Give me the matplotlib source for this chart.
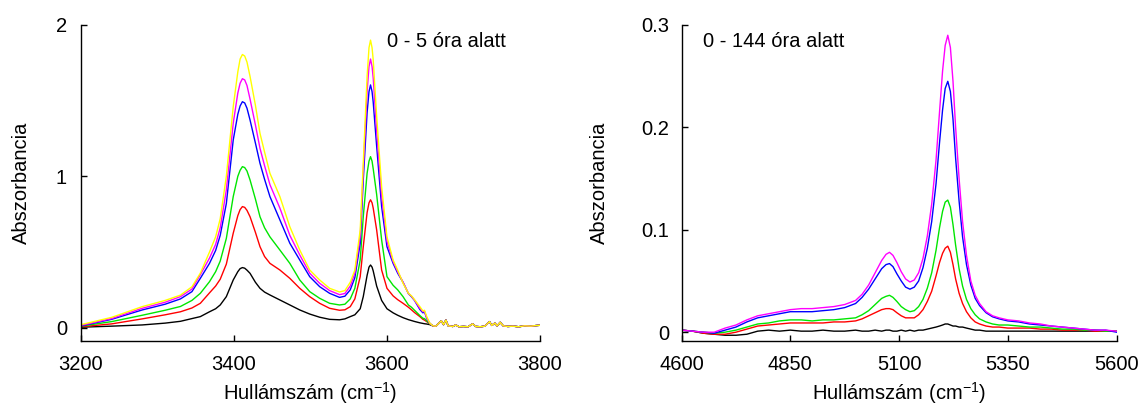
import numpy as np
import matplotlib
matplotlib.use("Agg")
import matplotlib.pyplot as plt
from matplotlib.ticker import FormatStrFormatter

plt.rcParams['font.family'] = ['Liberation Sans', 'DejaVu Sans']
plt.rcParams['mathtext.fontset'] = 'custom'
plt.rcParams['mathtext.rm'] = 'Liberation Sans'
plt.rcParams['mathtext.default'] = 'regular'

# ---- left panel: 3200-3800 cm-1, 0 - 5 ora ----
wn_left = [3200, 3240, 3280, 3310, 3330, 3345, 3356, 3368, 3376, 3382, 3390, 3399,
           3405, 3408, 3411, 3414, 3417, 3421, 3428, 3434, 3440, 3447, 3460, 3473,
           3486, 3499, 3512, 3525, 3538, 3545, 3552, 3558, 3565, 3569, 3574, 3576.5,
           3578.5, 3580.5, 3582, 3586.5, 3593, 3600, 3608, 3614, 3621, 3628, 3632, 3636,
           3643, 3647, 3649, 3652, 3656]

abs_black = [.003, .010, .018, .030, .042, .060, .073, .105, .125, .150, .205, .315,
             .370, .390, .397, .393, .380, .359, .300, .260, .235, .216, .183, .150,
             .117, .090, .069, .055, .052, .058, .073, .085, .125, .205, .345, .400,
             .414, .400, .375, .275, .180, .125, .098, .082, .066, .053, .047, .041,
             .032, .028, .026, .024, .020]
abs_red = [.006, .025, .058, .085, .105, .130, .161, .230, .275, .320, .420, .624,
           .740, .780, .800, .795, .775, .733, .630, .535, .470, .425, .381, .326,
           .260, .205, .161, .128, .115, .118, .139, .190, .337, .535, .760, .825,
           .845, .825, .790, .646, .381, .260, .210, .185, .161, .135, .118, .100,
           .073, .055, .050, .040, .025]
abs_green = [.010, .040, .082, .115, .140, .180, .227, .304, .370, .440, .590, .866,
             1.000, 1.040, 1.064, 1.058, 1.035, .976, .850, .733, .660, .600, .513, .425,
             .315, .238, .194, .161, .150, .155, .190, .260, .447, .733, 1.020, 1.100,
             1.130, 1.100, 1.050, .880, .580, .337, .280, .250, .205, .150, .135, .115,
             .080, .062, .060, .045, .025]
abs_blue = [.012, .055, .117, .155, .190, .238, .326, .425, .510, .610, .820, 1.240,
            1.410, 1.465, 1.493, 1.485, 1.450, 1.372, 1.220, 1.086, .980, .866, .712, .558,
            .447, .337, .271, .227, .200, .208, .250, .330, .558, .976, 1.420, 1.560,
            1.604, 1.560, 1.490, 1.200, .800, .535, .425, .360, .300, .225, .205, .180,
            .120, .098, .105, .062, .028]
abs_magenta = [.015, .060, .128, .168, .205, .255, .350, .460, .550, .660, .910, 1.350,
               1.550, 1.615, 1.645, 1.637, 1.600, 1.510, 1.340, 1.185, 1.070, .945, .790, .610,
               .480, .360, .293, .245, .218, .226, .275, .360, .600, 1.040, 1.560, 1.725,
               1.775, 1.725, 1.650, 1.300, .870, .570, .437, .370, .300, .226, .208, .182,
               .128, .105, .110, .064, .028]
abs_yellow = [.020, .068, .139, .180, .215, .270, .360, .500, .600, .720, 1.000, 1.460,
              1.690, 1.775, 1.805, 1.795, 1.755, 1.660, 1.470, 1.284, 1.160, 1.020, .866, .667,
              .513, .381, .315, .260, .236, .245, .300, .381, .646, 1.086, 1.660, 1.850,
              1.900, 1.850, 1.770, 1.400, .932, .600, .447, .380, .293, .227, .210, .185,
              .139, .110, .115, .073, .030]

# noisy tail above 3656 cm-1, practically the same for every spectrum
wn_tail = [3660, 3664, 3668, 3671, 3674, 3677, 3680, 3686, 3690, 3694, 3700, 3706,
           3712, 3716, 3722, 3728, 3734, 3737, 3741, 3744, 3748, 3752, 3758, 3765,
           3772, 3780, 3788, 3795, 3800]
abs_tail = [.012, .010, .030, .045, .020, .050, .012, .008, .018, .006, .008, .006,
            .025, .008, .006, .010, .040, .015, .030, .012, .035, .012, .008, .010,
            .006, .012, .010, .014, .016]

# ---- right panel: 4600-5600 cm-1, 0 - 144 ora ----
wn_right = [4600, 4625, 4650, 4675, 4700, 4725, 4750, 4775, 4800, 4825, 4850, 4875,
            4900, 4925, 4950, 4975, 5000, 5015, 5030, 5045, 5060, 5070, 5078, 5086,
            5095, 5105, 5115, 5125, 5135, 5145, 5155, 5165, 5175, 5185, 5193, 5200,
            5206, 5212, 5218, 5224, 5230, 5238, 5246, 5255, 5265, 5275, 5285, 5300,
            5315, 5330, 5350, 5375, 5400, 5425, 5450, 5475, 5500, 5525, 5550, 5575, 5600]

r_black = [.002, .001, -.001, -.002, -.003, -.003, -.002, .001, .002, .001, .002, .001,
           .001, .002, .001, .001, .002, .001, .001, .002, .001, .002, .002, .001,
           .001, .002, .001, .002, .001, .002, .002, .003, .004, .005, .006, .007,
           .008, .008, .007, .006, .006, .005, .005, .004, .003, .002, .002, .001,
           .001, .001, .001, .001, .001, .001, .001, .001, .001, .001, .001, .001, .001]
r_red = [.002, .001, -.001, -.002, -.002, .000, .003, .006, .007, .008, .009, .009,
         .009, .009, .010, .010, .011, .013, .016, .019, .022, .023, .023, .022,
         .019, .016, .014, .014, .014, .017, .022, .030, .040, .055, .068, .077,
         .082, .084, .078, .066, .052, .038, .028, .020, .014, .010, .008, .006,
         .005, .005, .004, .004, .004, .003, .003, .002, .002, .002, .001, .001, .001]
r_green = [.002, .001, .000, -.001, .000, .002, .005, .008, .009, .011, .012, .012,
           .011, .012, .012, .013, .014, .017, .021, .027, .033, .035, .036, .034,
           .030, .025, .022, .020, .021, .025, .032, .043, .058, .080, .102, .118,
           .127, .129, .122, .105, .085, .062, .045, .032, .023, .017, .013, .010,
           .008, .007, .007, .006, .005, .005, .004, .003, .003, .002, .002, .001, .001]
r_blue = [.002, .001, .000, -.001, .002, .005, .010, .014, .016, .018, .020, .020,
          .020, .021, .022, .024, .028, .034, .042, .052, .062, .066, .067, .064,
          .057, .050, .044, .042, .044, .050, .063, .082, .108, .145, .185, .217,
          .238, .245, .235, .208, .170, .128, .093, .066, .046, .033, .026, .019,
          .015, .013, .011, .010, .008, .007, .006, .005, .004, .003, .002, .002, .000]
r_magenta = [.002, .001, .000, .000, .004, .007, .012, .016, .018, .020, .022, .023,
             .023, .024, .025, .027, .031, .037, .046, .058, .070, .076, .078, .075,
             .068, .059, .052, .049, .051, .058, .072, .094, .125, .168, .215, .255,
             .280, .290, .278, .245, .200, .150, .108, .075, .050, .036, .028, .020,
             .016, .014, .012, .011, .009, .008, .006, .005, .004, .003, .002, .002, .001]

left_series = [(abs_black, 'black'), (abs_red, 'red'), (abs_green, '#00e600'),
               (abs_blue, 'blue'), (abs_magenta, 'magenta'), (abs_yellow, 'yellow')]
right_series = [(r_black, 'black'), (r_red, 'red'), (r_green, '#00e600'),
                (r_blue, 'blue'), (r_magenta, 'magenta')]

fig = plt.figure(figsize=(11.44, 4.07), dpi=100)
ax1 = fig.add_axes([0.0708, 0.1622, 0.4012, 0.7764])
ax2 = fig.add_axes([0.5958, 0.1622, 0.3802, 0.7764])

for vals, col in left_series:
    ax1.plot(wn_left + wn_tail, vals + abs_tail, color=col, lw=1.0)
for vals, col in right_series:
    ax2.plot(wn_right, vals, color=col, lw=1.0)


def style_axis(ax):
    for side in ['top', 'right']:
        ax.spines[side].set_visible(False)
    for side in ['left', 'bottom']:
        ax.spines[side].set_linewidth(1.0)
    ax.tick_params(direction='in', length=4, width=1, labelsize=14.5, pad=10)
    ax.set_xlabel('Hullámszám (cm$^{-1}$)', fontsize=14.5)
    ax.xaxis.set_label_coords(0.5, -0.124)


style_axis(ax1)
ax1.set_xlim(3200, 3800)
ax1.set_ylim(-0.088, 2)
ax1.set_xticks([3200, 3400, 3600, 3800])
ax1.set_yticks([0, 1, 2])
ax1.set_ylabel('Abszorbancia', fontsize=14.5)
ax1.yaxis.set_label_coords(-0.109, 0.5)
ax1.text(3600, 1.89, '0 - 5 óra alatt', fontsize=14.5, ha='left', va='center')

style_axis(ax2)
ax2.set_xlim(4600, 5600)
ax2.set_ylim(-0.0086, 0.3)
ax2.set_xticks([4600, 4850, 5100, 5350, 5600])
ax2.set_yticks([0, 0.1, 0.2, 0.3])
ax2.yaxis.set_major_formatter(FormatStrFormatter('%g'))
ax2.tick_params(axis='y', pad=9)
ax2.set_ylabel('Abszorbancia', fontsize=14.5)
ax2.yaxis.set_label_coords(-0.167, 0.5)
ax2.text(4650, 0.2835, '0 - 144 óra alatt', fontsize=14.5, ha='left', va='center')

fig.savefig('out.png', dpi=100)
